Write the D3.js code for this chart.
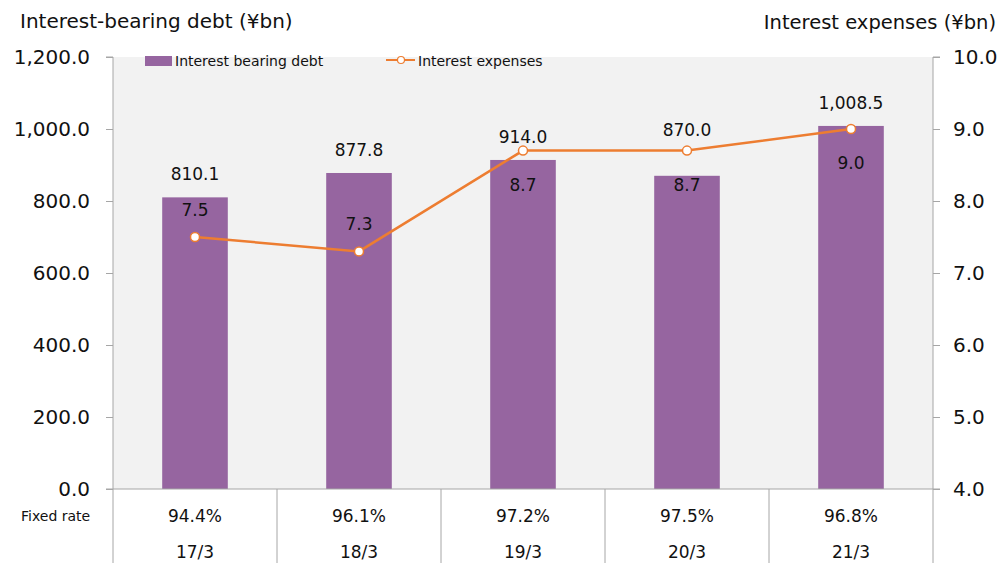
<!DOCTYPE html>
<html>
<head>
<meta charset="utf-8">
<script src="https://cdn.jsdelivr.net/npm/d3@7"></script>
<style>
  body { margin: 0; background: #fff; }
  svg { font-family: "DejaVu Sans", Verdana, sans-serif; }
</style>
</head>
<body>
<svg id="canvas" width="999" height="563"></svg>
<script>
const years = ["17/3", "18/3", "19/3", "20/3", "21/3"]
const debt = [810.1, 877.8, 914.0, 870.0, 1008.5]
const expenses = [7.5, 7.3, 8.7, 8.7, 9.0]
const fixedRate = ["94.4%", "96.1%", "97.2%", "97.5%", "96.8%"]
const leftTicks = [0, 200, 400, 600, 800, 1000, 1200]
const rightTicks = [4, 5, 6, 7, 8, 9, 10]
// where expense labels go: above or below the point
const expLabelPos = ["above", "above", "below", "below", "below"]

const w = 999, h = 563
const plotL = 113, plotR = 933, plotT = 57, plotB = 489
const purple = "#9665a0", orange = "#ed7d31", grid = "#a6a6a6"

const svg = d3.select("#canvas")

const x = d3.scaleBand().domain(years).range([plotL, plotR]).paddingInner(0).paddingOuter(0)
const y = d3.scaleLinear().domain([0, 1200]).range([plotB, plotT])
const y2 = d3.scaleLinear().domain([4, 10]).range([plotB, plotT])
const cx = i => x(years[i]) + x.bandwidth() / 2

// plot background
svg.append("rect")
  .attr("x", plotL).attr("y", plotT)
  .attr("width", plotR - plotL).attr("height", plotB - plotT)
  .attr("fill", "#f2f2f2")

// bars
const barW = x.bandwidth() * 0.4
svg.selectAll(".bar").data(debt).enter().append("rect")
  .attr("class", "bar")
  .attr("x", (d, i) => cx(i) - barW / 2)
  .attr("y", d => y(d))
  .attr("width", barW)
  .attr("height", d => plotB - y(d))
  .attr("fill", purple)

// left axis
const axL = svg.append("g").attr("transform", `translate(${plotL},0)`)
  .call(d3.axisLeft(y).tickValues(leftTicks).tickSize(7).tickPadding(16)
    .tickFormat(d3.format(",.1f")))
axL.attr("font-family", null)
axL.select(".domain").attr("stroke", grid).attr("d", `M-7,${plotT}H0V${plotB}`)
axL.selectAll(".tick line").attr("stroke", grid)
axL.selectAll("text").style("font-size", "20px").attr("fill", "#111")

// right axis
const axR = svg.append("g").attr("transform", `translate(${plotR},0)`)
  .call(d3.axisRight(y2).tickValues(rightTicks).tickSize(7).tickPadding(13)
    .tickFormat(d3.format(".1f")))
axR.attr("font-family", null)
axR.select(".domain").attr("stroke", grid).attr("d", `M7,${plotT}H0V${plotB}`)
axR.selectAll(".tick line").attr("stroke", grid)
axR.selectAll("text").style("font-size", "20px").attr("fill", "#111")

// bottom line + table
svg.append("line")
  .attr("x1", plotL - 7).attr("x2", plotR + 7)
  .attr("y1", plotB).attr("y2", plotB)
  .attr("stroke", grid)

const edges = years.map(d => x(d)).concat([plotR])
svg.selectAll(".tblline").data(edges).enter().append("line")
  .attr("x1", d => d).attr("x2", d => d)
  .attr("y1", plotB).attr("y2", h)
  .attr("stroke", grid)

svg.selectAll(".rate").data(fixedRate).enter().append("text")
  .attr("x", (d, i) => cx(i))
  .attr("y", 522)
  .attr("text-anchor", "middle")
  .style("font-size", "17px")
  .attr("fill", "#111")
  .text(d => d)

svg.selectAll(".yr").data(years).enter().append("text")
  .attr("x", (d, i) => cx(i))
  .attr("y", 558)
  .attr("text-anchor", "middle")
  .style("font-size", "17px")
  .attr("fill", "#111")
  .text(d => d)

svg.append("text")
  .attr("x", 21).attr("y", 521)
  .style("font-size", "14px")
  .attr("fill", "#111")
  .text("Fixed rate")

// line
const line = d3.line()
  .x((d, i) => cx(i))
  .y(d => y2(d))
svg.append("path")
  .datum(expenses)
  .attr("d", line)
  .attr("fill", "none")
  .attr("stroke", orange)
  .attr("stroke-width", 2.5)

svg.selectAll(".pt").data(expenses).enter().append("circle")
  .attr("cx", (d, i) => cx(i))
  .attr("cy", d => y2(d))
  .attr("r", 4.5)
  .attr("fill", "#fff")
  .attr("stroke", orange)
  .attr("stroke-width", 1.5)

// bar labels (lifted above the line marker when it would collide)
svg.selectAll(".blab").data(debt).enter().append("text")
  .attr("x", (d, i) => cx(i))
  .attr("y", (d, i) => {
    const base = y(d) - 17, pt = y2(expenses[i])
    return pt < base ? pt - 15 : base
  })
  .attr("text-anchor", "middle")
  .style("font-size", "17px")
  .attr("fill", "#111")
  .text(d => d3.format(",.1f")(d))

// expense labels
svg.selectAll(".elab").data(expenses).enter().append("text")
  .attr("x", (d, i) => cx(i))
  .attr("y", (d, i) => expLabelPos[i] == "above" ? y2(d) - 21 : y2(d) + 40)
  .attr("text-anchor", "middle")
  .style("font-size", "17px")
  .attr("fill", "#111")
  .text(d => d3.format(".1f")(d))

// titles
svg.append("text")
  .attr("x", 20).attr("y", 28)
  .style("font-size", "20px")
  .attr("fill", "#111")
  .text("Interest-bearing debt (¥bn)")

svg.append("text")
  .attr("x", 996).attr("y", 29)
  .attr("text-anchor", "end")
  .style("font-size", "19.5px")
  .attr("fill", "#111")
  .text("Interest expenses (¥bn)")

// legend
const leg = svg.append("g")
leg.append("rect").attr("x", 145).attr("y", 56).attr("width", 27).attr("height", 10).attr("fill", purple)
leg.append("text").attr("x", 175).attr("y", 66).style("font-size", "14px").attr("fill", "#111")
  .text("Interest bearing debt")
leg.append("line").attr("x1", 386).attr("x2", 415).attr("y1", 60).attr("y2", 60)
  .attr("stroke", orange).attr("stroke-width", 2)
leg.append("circle").attr("cx", 401).attr("cy", 60).attr("r", 3.5)
  .attr("fill", "#fff").attr("stroke", orange).attr("stroke-width", 1.2)
leg.append("text").attr("x", 418).attr("y", 66).style("font-size", "14px").attr("fill", "#111")
  .text("Interest expenses")
</script>
</body>
</html>
